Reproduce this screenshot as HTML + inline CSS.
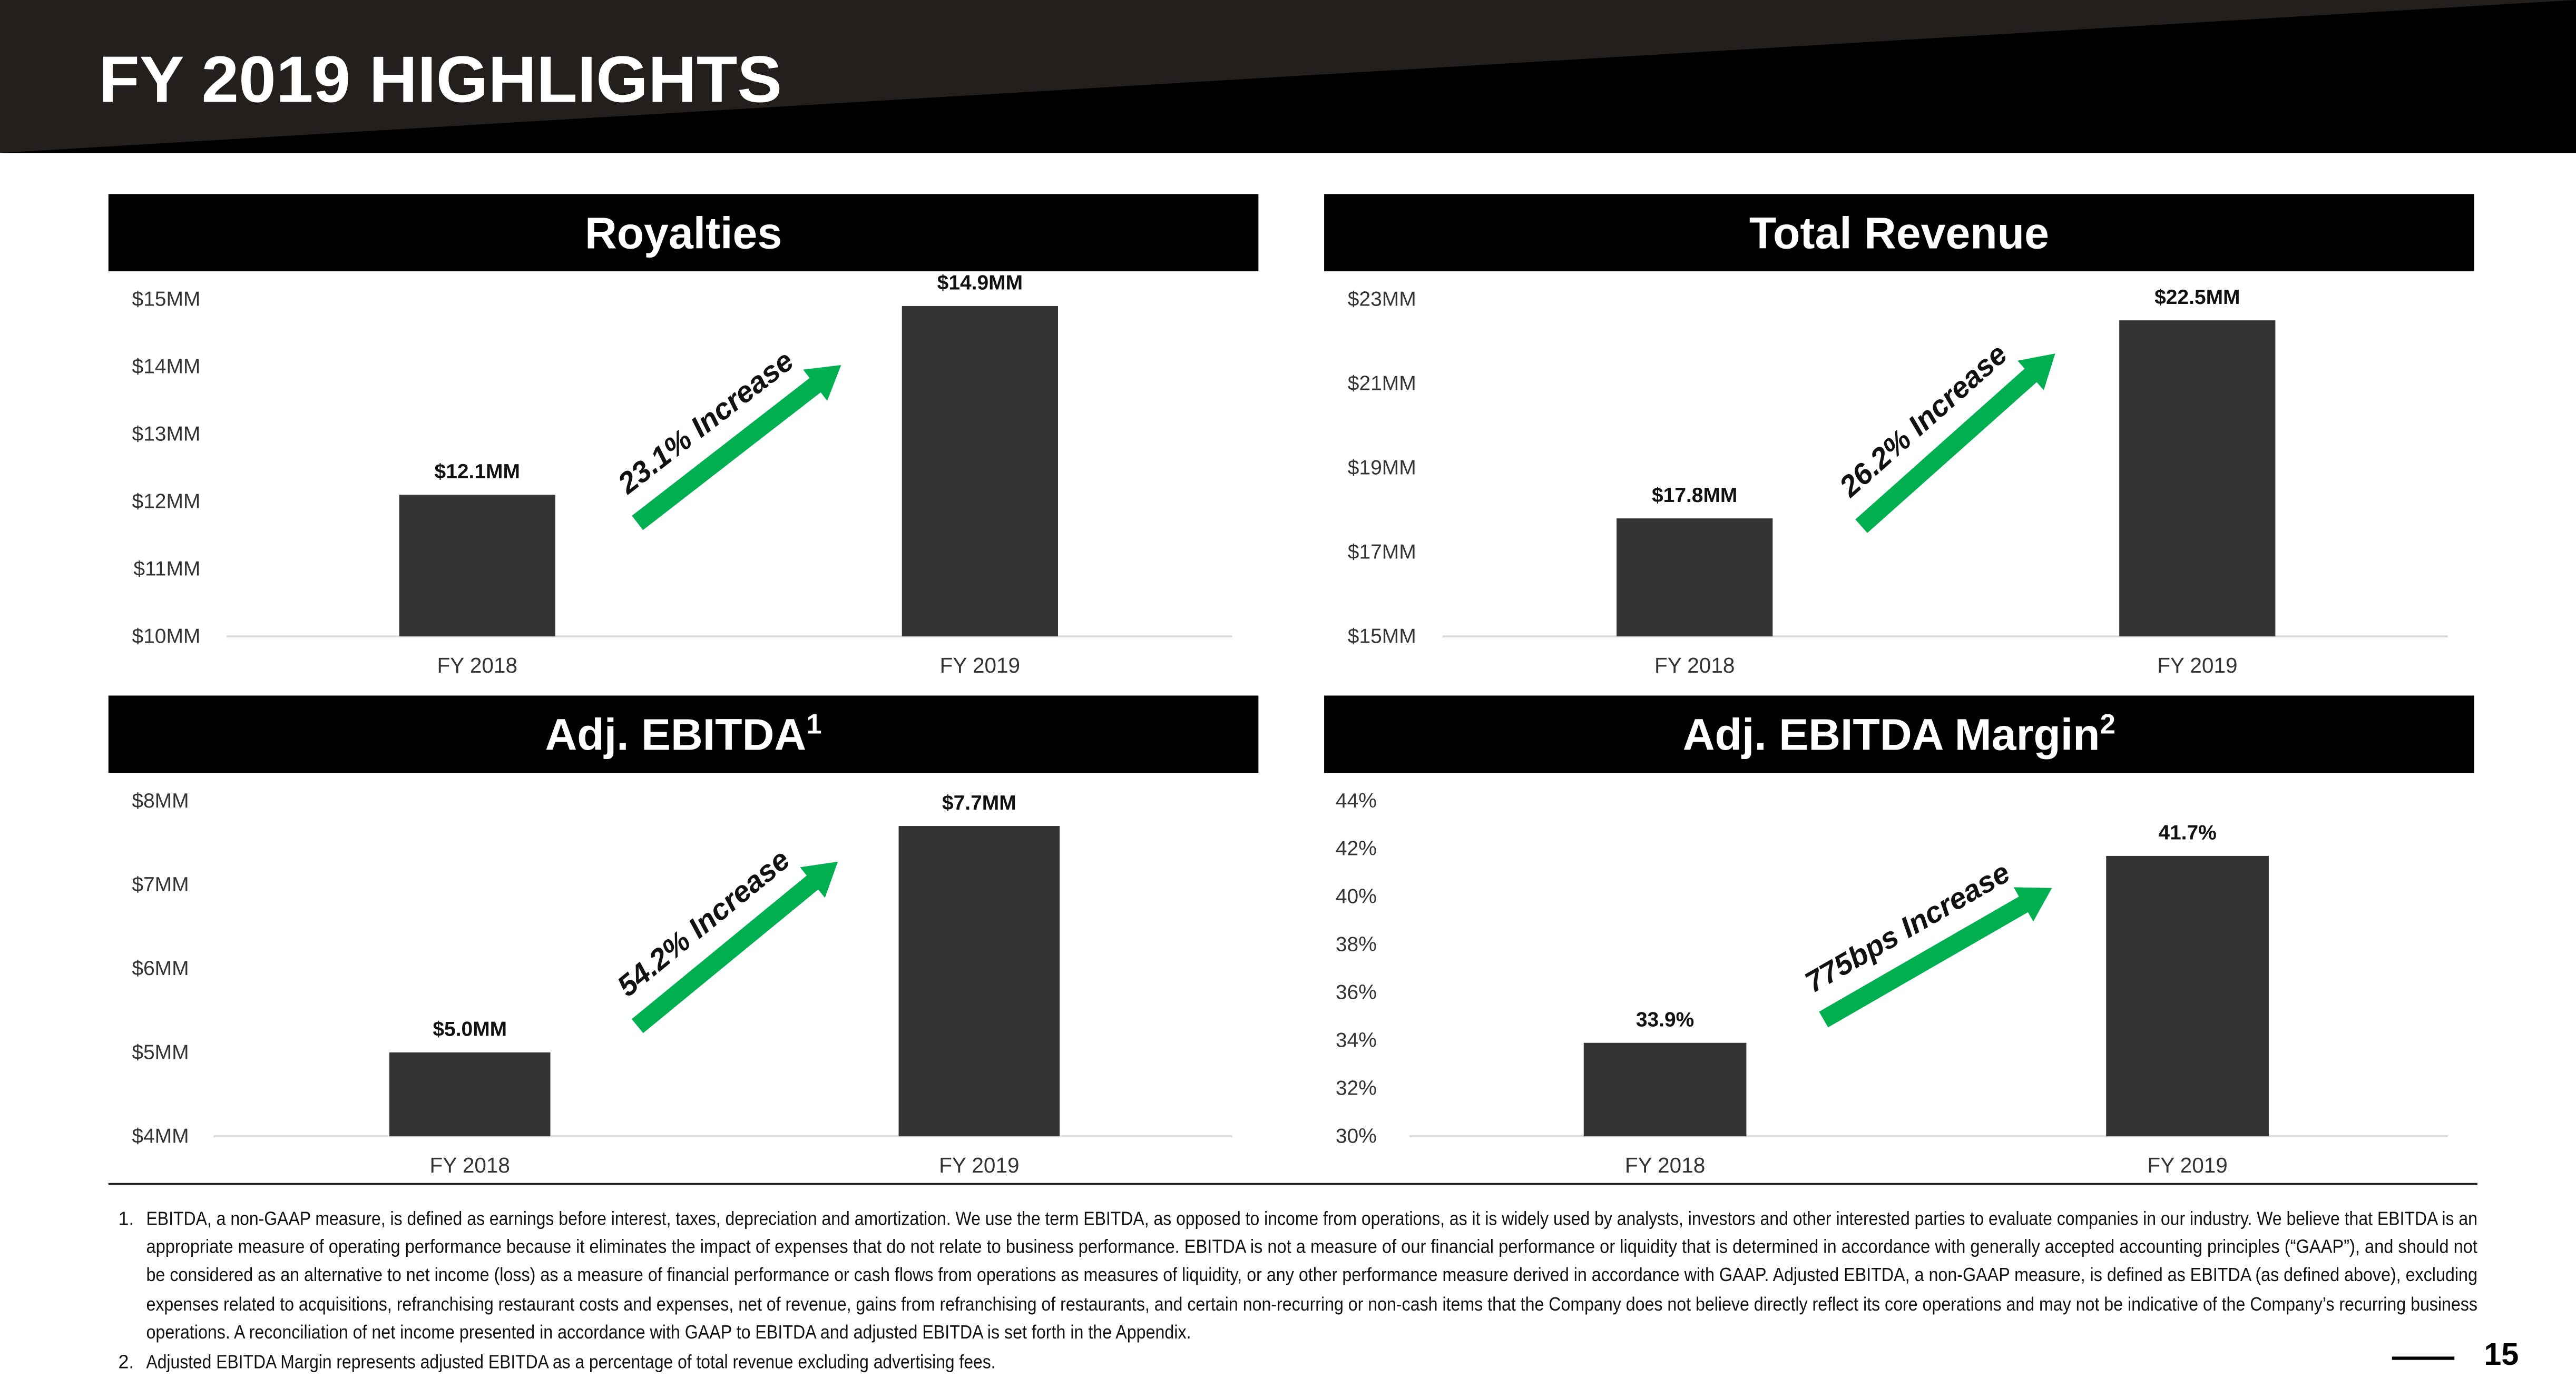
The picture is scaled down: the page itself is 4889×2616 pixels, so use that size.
<!DOCTYPE html>
<html><head><meta charset="utf-8"><style>
html,body{margin:0;padding:0;background:#fff}
svg{display:block}
text{font-family:"Liberation Sans Narrow","Liberation Sans",sans-serif}
</style></head><body>
<svg id="s" width="4889" height="2616" viewBox="0 0 1568 838" preserveAspectRatio="none" xmlns="http://www.w3.org/2000/svg">
<rect x="0" y="0" width="1568" height="93" fill="#231f1c"/>
<polygon points="0,93 1568,0 1568,93" fill="#000"/>
<text x="60" y="62" font-size="40" font-weight="bold" fill="#fff" textLength="416" lengthAdjust="spacingAndGlyphs">FY 2019 HIGHLIGHTS</text>
<g id="charts"></g>
<line x1="66" y1="720" x2="1508" y2="720" stroke="#222" stroke-width="1.2"/>
<g font-size="11.5" fill="#111">
<text x="72" y="745">1.</text>
<text x="89" y="745" textLength="1419" lengthAdjust="spacingAndGlyphs">EBITDA, a non-GAAP measure, is defined as earnings before interest, taxes, depreciation and amortization. We use the term EBITDA, as opposed to income from operations, as it is widely used by analysts, investors and other interested parties to evaluate companies in our industry. We believe that EBITDA is an</text>
<text x="89" y="762" textLength="1419" lengthAdjust="spacingAndGlyphs">appropriate measure of operating performance because it eliminates the impact of expenses that do not relate to business performance. EBITDA is not a measure of our financial performance or liquidity that is determined in accordance with generally accepted accounting principles (“GAAP”), and should not</text>
<text x="89" y="779" textLength="1419" lengthAdjust="spacingAndGlyphs">be considered as an alternative to net income (loss) as a measure of financial performance or cash flows from operations as measures of liquidity, or any other performance measure derived in accordance with GAAP.  Adjusted EBITDA, a non-GAAP measure, is defined as EBITDA (as defined above), excluding</text>
<text x="89" y="797" textLength="1419" lengthAdjust="spacingAndGlyphs">expenses related to acquisitions, refranchising restaurant costs and expenses, net of revenue, gains from refranchising of restaurants, and certain non-recurring or non-cash items that the Company does not believe directly reflect its core operations and may not be indicative of the Company’s recurring business</text>
<text x="89" y="814" textLength="636" lengthAdjust="spacingAndGlyphs">operations.  A reconciliation of net income presented in accordance with GAAP to EBITDA and adjusted EBITDA is set forth in the Appendix.</text>
<text x="72" y="832">2.</text>
<text x="89" y="832" textLength="517" lengthAdjust="spacingAndGlyphs">Adjusted EBITDA Margin represents adjusted EBITDA as a percentage of total revenue excluding advertising fees.</text>
</g>
<line x1="1456" y1="826" x2="1494" y2="826" stroke="#000" stroke-width="2"/>
<text x="1512" y="830" font-size="19" font-weight="bold" fill="#000">15</text>
</svg>
<script>
const categories = ["FY 2018", "FY 2019"];
const royaltiesValues = [12.1, 14.9];
const royaltiesLabels = ["$12.1MM", "$14.9MM"];
const royaltiesTicks = [15, 14, 13, 12, 11, 10];
const revenueValues = [17.8, 22.5];
const revenueLabels = ["$17.8MM", "$22.5MM"];
const revenueTicks = [23, 21, 19, 17, 15];
const ebitdaValues = [5.0, 7.7];
const ebitdaLabels = ["$5.0MM", "$7.7MM"];
const ebitdaTicks = [8, 7, 6, 5, 4];
const marginValues = [33.9, 41.7];
const marginLabels = ["33.9%", "41.7%"];
const marginTicks = [44, 42, 40, 38, 36, 34, 32, 30];
const increaseTexts = ["23.1% Increase", "26.2% Increase", "54.2% Increase", "775bps Increase"];

const NS = "http://www.w3.org/2000/svg";
const root = document.getElementById("charts");
function mk(tag, attrs, parent) {
  const e = document.createElementNS(NS, tag);
  for (const k in attrs) e.setAttribute(k, attrs[k]);
  (parent || root).appendChild(e);
  return e;
}
const panels = [
  {name:"royalties", title:"Royalties", sup:"", vals:royaltiesValues, labels:royaltiesLabels, ticks:royaltiesTicks, fmt:t=>"$"+t+"MM",
   bx:66, by:118, top:182, base:387, axL:138, axR:750, tickX:122, bars:[243,549], bw:95, arrow:[388,318,512,222], inc:increaseTexts[0]},
  {name:"total-revenue", title:"Total Revenue", sup:"", vals:revenueValues, labels:revenueLabels, ticks:revenueTicks, fmt:t=>"$"+t+"MM",
   bx:806, by:118, top:182, base:387, axL:878, axR:1490, tickX:862, bars:[984,1290], bw:95, arrow:[1133,320,1251,215], inc:increaseTexts[1]},
  {name:"adj-ebitda", title:"Adj. EBITDA", sup:"1", vals:ebitdaValues, labels:ebitdaLabels, ticks:ebitdaTicks, fmt:t=>"$"+t+"MM",
   bx:66, by:423, top:487, base:691, axL:130, axR:750, tickX:115, bars:[237,547], bw:98, arrow:[388,624,510,524], inc:increaseTexts[2]},
  {name:"adj-ebitda-margin", title:"Adj. EBITDA Margin", sup:"2", vals:marginValues, labels:marginLabels, ticks:marginTicks, fmt:t=>t+"%",
   bx:806, by:423, top:487, base:691, axL:858, axR:1490, tickX:838, bars:[964,1282], bw:99, arrow:[1110,620,1249,540], inc:increaseTexts[3]}
];
panels.forEach(p => {
  const g = mk("g", {});
  
  
  const hb = mk("rect", {x:p.bx, y:p.by, width:700, height:47, fill:"#000"}, g);
  
  
  const tt = mk("text", {x:p.bx+350, y:p.by+33, "text-anchor":"middle", "font-size":27, "font-weight":"bold", fill:"#fff"}, g);
  
  
  tt.textContent = p.title;
  if (p.sup) { const s = mk("tspan", {"font-size":17, dy:-10}, tt); s.textContent = p.sup; }
  const mx = Math.max(...p.ticks), mn = Math.min(...p.ticks);
  const yS = v => p.top + (mx - v) / (mx - mn) * (p.base - p.top);
  p.ticks.forEach(t => {
    const tl = mk("text", {x:p.tickX, y:yS(t)+4, "text-anchor":"end", "font-size":12.5, fill:"#333"}, g);
    
    
    tl.textContent = p.fmt(t);
  });
  const ax = mk("line", {x1:p.axL, x2:p.axR, y1:p.base, y2:p.base, stroke:"#d9d9d9", "stroke-width":1.2}, g);
  
  
  p.vals.forEach((v, i) => {
    const x = p.bars[i], cx = x + p.bw/2, y = yS(v);
    const r = mk("rect", {x:x, y:y, width:p.bw, height:p.base - y, fill:"#333333"}, g);
    
    
    const vl = mk("text", {x:cx, y:y-10, "text-anchor":"middle", "font-size":12.5, "font-weight":"bold", fill:"#111"}, g);
    
    
    vl.textContent = p.labels[i];
    const cl = mk("text", {x:cx, y:p.base+22, "text-anchor":"middle", "font-size":13, fill:"#333"}, g);
    
    
    cl.textContent = categories[i];
  });
  const [x1,y1,x2,y2] = p.arrow;
  const dx = x2-x1, dy = y2-y1, L = Math.hypot(dx,dy), ux = dx/L, uy = dy/L, nx = -uy, ny = ux;
  const sw = 5.5, hw = 12, hl = 20;
  const bx2 = x2 - ux*hl, by2 = y2 - uy*hl;
  const pts = [[x1+nx*sw,y1+ny*sw],[bx2+nx*sw,by2+ny*sw],[bx2+nx*hw,by2+ny*hw],[x2,y2],[bx2-nx*hw,by2-ny*hw],[bx2-nx*sw,by2-ny*sw],[x1-nx*sw,y1-ny*sw]];
  const ar = mk("polygon", {points:pts.map(q=>q.join(",")).join(" "), fill:"#00b050"}, g);
  
  
  const ang = Math.atan2(dy,dx)*180/Math.PI;
  const mxp = (x1+x2)/2 - 8*ux - nx*17, myp = (y1+y2)/2 - 8*uy - ny*17;
  const at = mk("text", {x:mxp, y:myp, "text-anchor":"middle", "font-size":18, "font-weight":"bold", "font-style":"italic", fill:"#111",
    transform:"rotate("+ang+" "+mxp+" "+myp+")", "font-family":"Liberation Sans, sans-serif"}, g);
  
  
  at.textContent = p.inc;
});
</script>
</body></html>
